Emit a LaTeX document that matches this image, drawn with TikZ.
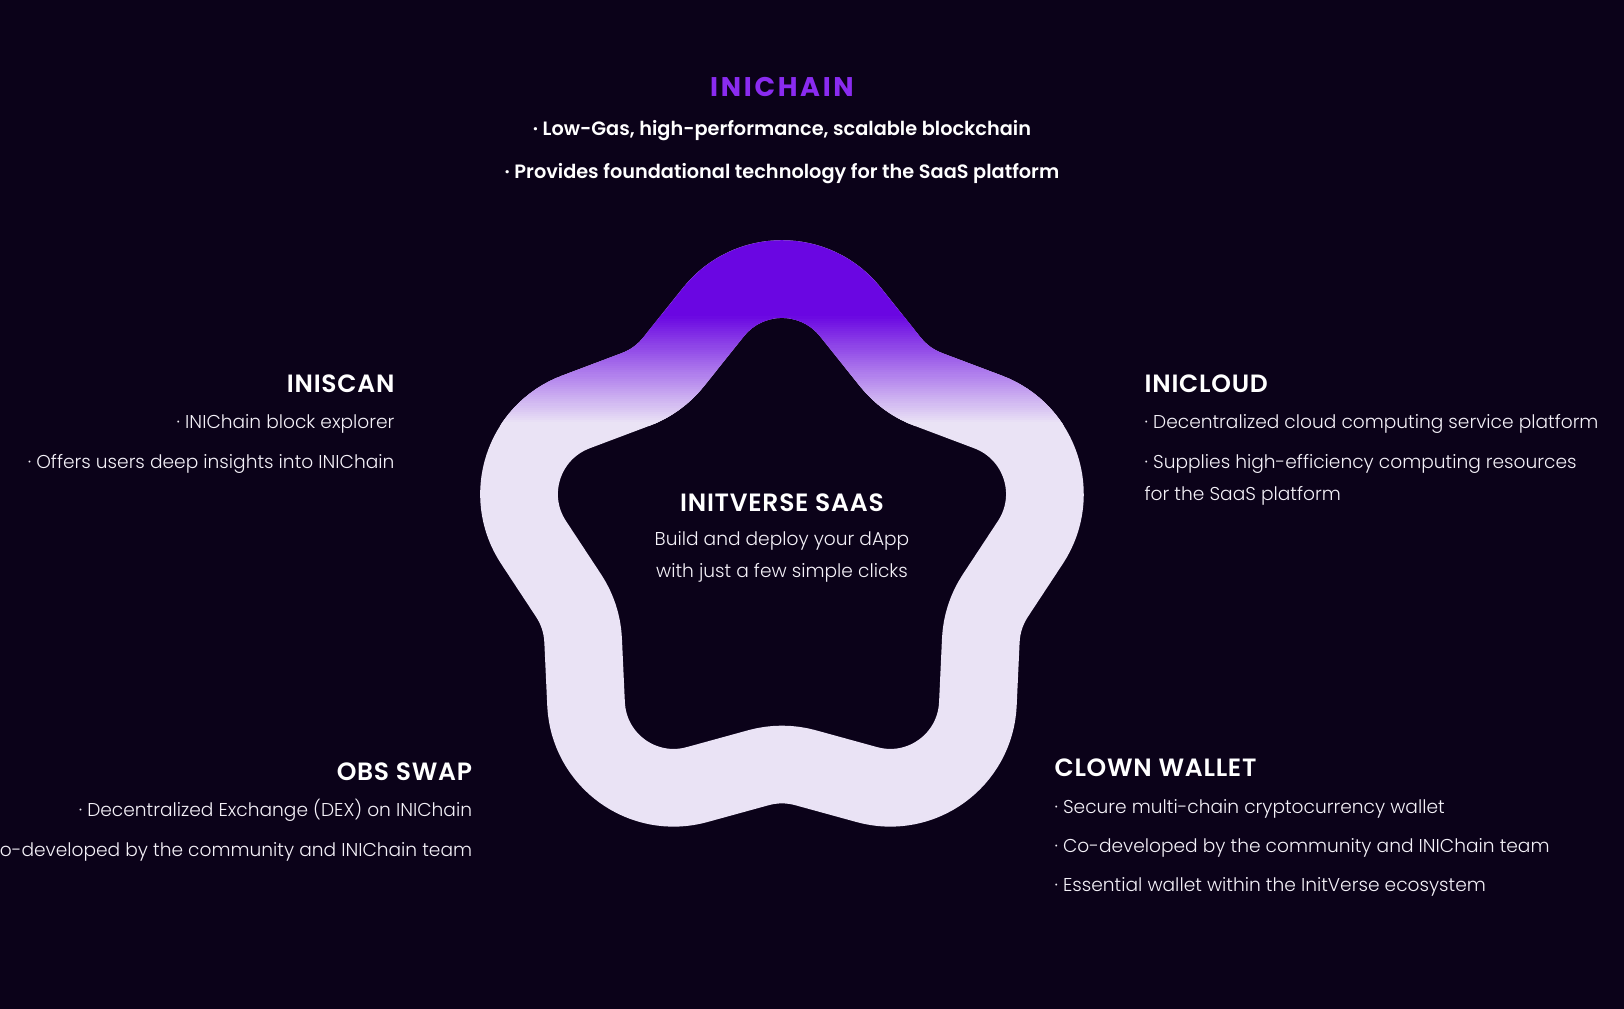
\documentclass[tikz,border=0pt]{standalone}
\usepackage{fontspec}
\setmainfont{Poppins}
\newfontfamily\lightfont{Poppins Light}
\newfontfamily\semifont{Poppins SemiBold}
\newfontfamily\headfont{Poppins SemiBold}[LetterSpace=3]
\newfontfamily\chainfont{Poppins Bold}[LetterSpace=10]
\usepackage{tikz}
\usetikzlibrary{calc}
\definecolor{bgdark}{HTML}{0B0219}
\definecolor{ringtop}{HTML}{6A06E2}
\definecolor{ringlow}{HTML}{EAE3F5}
\definecolor{chainpurple}{HTML}{8A2BF0}
\definecolor{textwhite}{HTML}{F4F1F8}
\tikzset{
	ring/.style={line width=77.7pt, line join=round},
	head/.style={font=\headfont\fontsize{25}{29}\selectfont, text=white, inner sep=0pt},
	chainhead/.style={font=\chainfont\fontsize{27}{31}\selectfont, text=chainpurple, inner sep=0pt},
	lead/.style={font=\semifont\fontsize{19.3}{23}\selectfont, text=white, inner sep=0pt},
	item/.style={font=\lightfont\fontsize{18.6}{22}\selectfont, text=textwhite, inner sep=0pt}
}

\begin{document}
\begin{tikzpicture}[x=1.0357pt, y=-1.0357pt]
   \fill[bgdark] (0,0) rectangle (1568,974);
   \useasboundingbox (0,0) rectangle (1568,974);

   % star ring
   \coordinate (C) at (755,532);
   \foreach \k in {0,...,4} {
      \coordinate (tip\k) at ($(C)+(-90+72*\k:313.5)$);
      \coordinate (notch\k) at ($(C)+(-54+72*\k:203)$);
   }
   \foreach \k [evaluate=\k as \kn using {int(mod(\k+1,5))}] in {0,...,4} {
      \coordinate (a\k) at ($(tip\k)!109.8pt!(notch\k)$);
      \coordinate (b\k) at ($(notch\k)!24.2pt!(tip\k)$);
      \coordinate (c\k) at ($(notch\k)!24.2pt!(tip\kn)$);
      \coordinate (d\k) at ($(tip\kn)!109.8pt!(notch\k)$);
      \coordinate (e\k) at ($(tip\kn)!109.8pt!(notch\kn)$);
      \coordinate (bc\k) at ($(b\k)!0.655!(notch\k)$);
      \coordinate (cc\k) at ($(c\k)!0.655!(notch\k)$);
      \coordinate (dc\k) at ($(d\k)!0.513!(tip\kn)$);
      \coordinate (ec\k) at ($(e\k)!0.513!(tip\kn)$);
   }
   \path[save path=\ringpath] (a0) foreach \k in {0,...,4} {
      -- (b\k) .. controls (bc\k) and (cc\k) .. (c\k)
      -- (d\k) .. controls (dc\k) and (ec\k) .. (e\k)} -- cycle;

   \draw[ring, ringlow, use path=\ringpath];
   \begin{scope}
      \clip (0,0) rectangle (1568,304);
      \draw[ring, ringtop, use path=\ringpath];
   \end{scope}
   \foreach \i in {0,...,52} {
      \pgfmathsetmacro{\pct}{100-\i*100/52}
      \begin{scope}
         \clip (0,304+2*\i) rectangle (1568,307+2*\i);
         \draw[ring, draw=ringtop!\pct!ringlow, use path=\ringpath];
      \end{scope}
   }

   % top block
   \node[chainhead, anchor=base] (inichain) at (755,92.7) {INICHAIN};
   \node[lead, anchor=base] (chainA) at (755,131.3) {· Low-Gas, high-performance, scalable blockchain};
   \node[lead, anchor=base] (chainB) at (755,172.2) {· Provides foundational technology for the SaaS platform};

   % left block
   \node[head, anchor=base east] (iniscan) at (381,378.8) {INISCAN};
   \node[item, anchor=base east] (scanA) at (381,413.6) {· INIChain block explorer};
   \node[item, anchor=base east] (scanB) at (381,452.2) {· Offers users deep insights into INIChain};

   % right block
   \node[head, anchor=base west] (inicloud) at (1105,378.8) {INICLOUD};
   \node[item, anchor=base west] (cloudA) at (1105,413.6) {· Decentralized cloud computing service platform};
   \node[item, anchor=base west] (cloudB) at (1105,452.2) {· Supplies high-efficiency computing resources};
   \node[item, anchor=base west] (cloudC) at (1105,482.8) {for the SaaS platform};

   % centre
   \node[head, anchor=base] (saas) at (755,494) {INITVERSE SAAS};
   \node[item, anchor=base] (saasA) at (755,527) {Build and deploy your dApp};
   \node[item, anchor=base] (saasB) at (755,558) {with just a few simple clicks};

   % lower left block
   \node[head, anchor=base east] (obsswap) at (456,754) {OBS SWAP};
   \node[item, anchor=base east] (swapA) at (456,788.5) {· Decentralized Exchange (DEX) on INIChain};
   \node[item, anchor=base east] (swapB) at (456,827.1) {· Co-developed by the community and INIChain team};

   % lower right block
   \node[head, anchor=base west] (clown) at (1018,749.3) {CLOWN WALLET};
   \node[item, anchor=base west] (walletA) at (1018,785.3) {· Secure multi-chain cryptocurrency wallet};
   \node[item, anchor=base west] (walletB) at (1018,823.3) {· Co-developed by the community and INIChain team};
   \node[item, anchor=base west] (walletC) at (1018,861) {· Essential wallet within the InitVerse ecosystem};
\end{tikzpicture}
\end{document}
